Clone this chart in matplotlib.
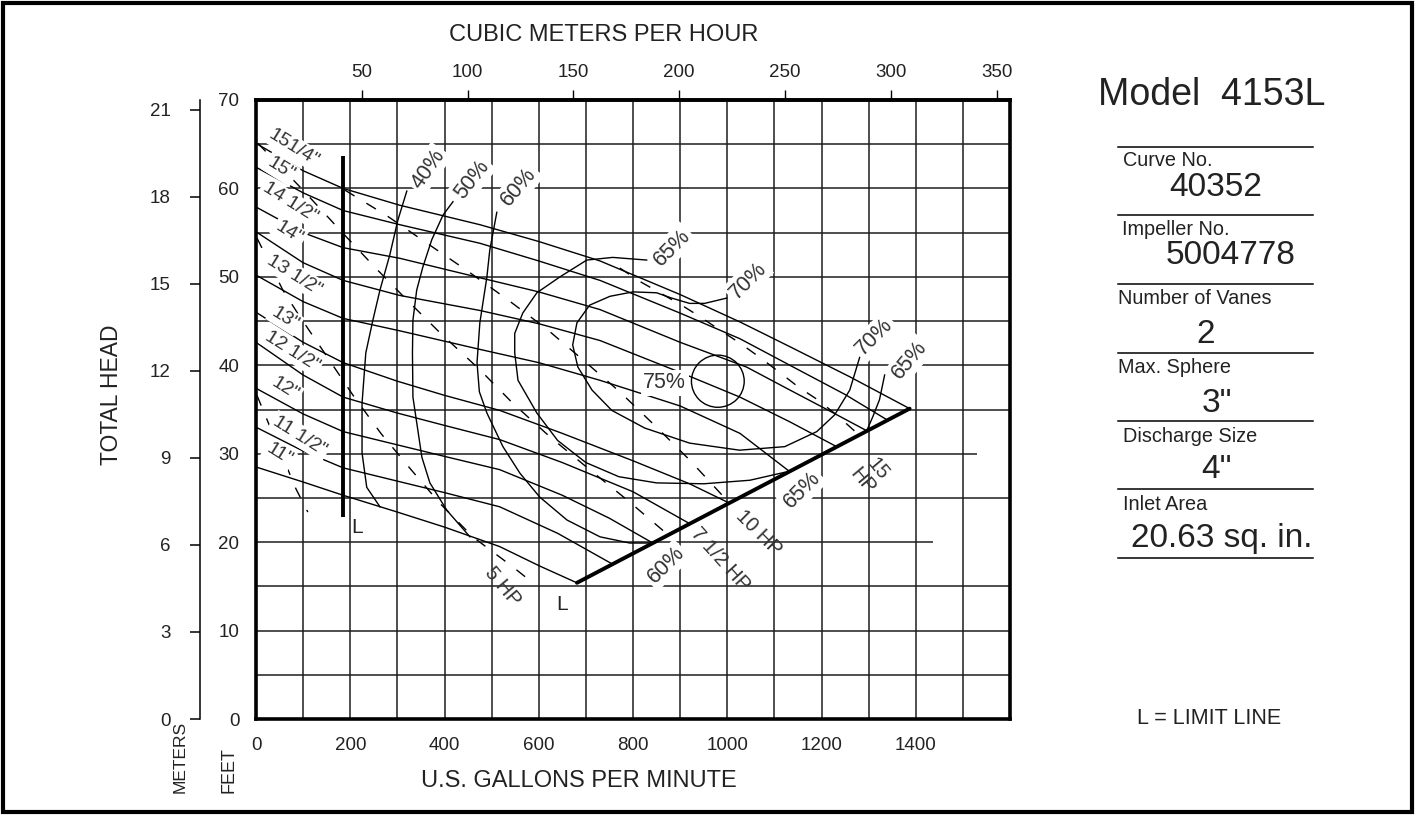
import matplotlib
matplotlib.use("Agg")
import matplotlib.pyplot as plt
from matplotlib.patches import Ellipse, Rectangle
from matplotlib.lines import Line2D

plt.rcParams['font.family'] = ['Liberation Sans', 'DejaVu Sans']
REG = ['Liberation Sans', 'DejaVu Sans']

# ------------------------------------------------------------------ data
gpm_ticks = [0, 200, 400, 600, 800, 1000, 1200, 1400]
feet_ticks = [0, 10, 20, 30, 40, 50, 60, 70]
m3h_ticks = [50, 100, 150, 200, 250, 300, 350]
meter_ticks = [0, 3, 6, 9, 12, 15, 18, 21]
GPM_PER_M3H = 4.49
FT_PER_M = 3.2808

impeller_names = ['151/4"', '15"', '14 1/2"', '14"', '13 1/2"', '13"',
                  '12 1/2"', '12"', '11 1/2"', '11"']
impeller_q = [
    [0, 100, 185, 305, 475, 600, 730, 900, 1027, 1133, 1260, 1387],
    [0, 100, 185, 305, 475, 600, 730, 900, 1027, 1133, 1250, 1340],
    [0, 100, 185, 305, 475, 600, 730, 900, 1041, 1133, 1215, 1296],
    [0, 100, 185, 305, 475, 600, 730, 900, 1027, 1133, 1232],
    [0, 100, 185, 305, 475, 600, 730, 900, 1027, 1132],
    [0, 100, 185, 300, 400, 517, 650, 800, 920, 1005],
    [0, 100, 185, 300, 400, 517, 650, 800, 920],
    [0, 100, 185, 300, 400, 517, 650, 750, 842],
    [0, 100, 185, 300, 400, 517, 640, 757],
    [0, 100, 185, 300, 400, 517, 602, 681],
]
impeller_h = [
    [65.1, 62.0, 60.0, 58.1, 55.9, 54.0, 51.8, 48.0, 44.9, 42.1, 38.7, 35.1],
    [62.4, 59.5, 57.5, 55.9, 53.8, 51.8, 49.6, 45.9, 43.0, 40.0, 36.7, 33.8],
    [57.9, 55.0, 53.3, 52.1, 49.9, 48.3, 46.3, 42.6, 39.8, 37.2, 34.9, 32.6],
    [55.1, 51.6, 49.6, 47.9, 46.2, 44.7, 42.8, 39.2, 36.4, 33.6, 30.8],
    [50.2, 47.2, 45.3, 43.9, 41.8, 40.3, 38.3, 35.4, 32.3, 28.0],
    [46.0, 42.6, 40.3, 38.2, 36.6, 34.9, 32.3, 29.2, 26.6, 24.4],
    [42.6, 38.9, 36.4, 34.6, 33.2, 31.6, 29.0, 25.7, 22.1],
    [37.4, 34.5, 32.5, 31.0, 29.7, 28.2, 25.3, 22.7, 19.9],
    [33.0, 30.3, 28.4, 26.9, 25.6, 24.0, 21.0, 17.5],
    [28.5, 26.8, 25.3, 23.4, 21.7, 19.5, 17.3, 15.4],
]

eff40_q = [320, 301, 284, 263, 248, 233, 225, 225, 235, 263]
eff40_h = [59.7, 56.4, 52.5, 48.5, 45.1, 41.4, 35.7, 30.1, 26.2, 24.0]
eff50_q = [418, 397, 373, 354, 341, 333, 332, 333, 352, 369, 405, 454]
eff50_h = [58.5, 57.0, 54.2, 51.1, 48.5, 45.1, 41.4, 36.4, 29.6, 26.7, 23.6, 20.6]
eff60_q = [511, 496, 490, 475, 469, 474, 490, 524, 560, 602, 660, 730, 793, 842]
eff60_h = [57.3, 53.0, 50.0, 44.8, 40.3, 37.0, 34.6, 30.8, 27.8, 25.1, 22.5, 20.6, 19.9, 19.9]
eff65_q = [829, 757, 702, 645, 596, 566, 549, 549, 556, 596, 640, 700, 770, 850, 950, 1048, 1122]
eff65_h = [51.9, 52.2, 51.9, 50.0, 48.2, 45.9, 43.6, 41.4, 38.3, 34.6, 31.5, 29.0, 27.4, 26.7, 26.6, 27.0, 27.9]
eff65r_q = [1334, 1323, 1309, 1296]
eff65r_h = [38.9, 36.1, 34.2, 32.6]
eff70_q = [999, 952, 920, 882, 850, 800, 751, 708, 681, 672, 683, 713, 755, 825,
           920, 1026, 1122, 1190, 1228, 1260, 1281]
eff70_h = [47.6, 47.0, 47.0, 47.6, 48.2, 48.3, 47.8, 46.8, 44.8, 42.3, 39.8, 37.2, 34.9, 32.9,
           31.2, 30.4, 30.8, 32.5, 34.4, 37.2, 40.9]
eff75_center = (980, 38.2)
eff75_size = (112, 5.9)

hp_small_q = [2, 30, 60, 85, 110]
hp_small_h = [36.6, 33.0, 29.2, 26.0, 23.4]
hp5_q = [2, 57, 93, 153, 206, 265, 329, 390, 460, 545, 592]
hp5_h = [54.4, 48.5, 45.5, 40.8, 36.6, 32.3, 28.2, 24.4, 20.6, 17.2, 15.2]
hp75_q = [4, 100, 178, 252, 320, 390, 475, 545, 624, 708, 787, 875]
hp75_h = [65.1, 59.8, 55.3, 51.1, 47.4, 43.7, 39.5, 35.7, 31.9, 28.2, 24.8, 20.8]
hp10_q = [189, 278, 363, 448, 532, 617, 694, 772, 850, 920, 1005]
hp10_h = [59.8, 56.9, 53.8, 50.7, 47.5, 44.1, 40.6, 37.0, 33.0, 29.3, 24.4]
hp15_q = [772, 814, 857, 906, 942, 984, 1027, 1069, 1111, 1152, 1192, 1234, 1280]
hp15_h = [51.0, 49.5, 48.2, 46.7, 45.5, 44.0, 42.5, 40.9, 39.2, 37.5, 36.1, 34.3, 32.1]

limit_left_q = [185, 185]
limit_left_h = [63.7, 22.8]
limit_right_q = [681, 1387]
limit_right_h = [15.4, 35.1]

info_labels = ['Curve No.', 'Impeller No.', 'Number of Vanes', 'Max. Sphere',
               'Discharge Size', 'Inlet Area']
info_values = ['40352', '5004778', '2', '3"', '4"', '20.63 sq. in.']

# ------------------------------------------------------------------ layout
W, H = 1415, 815
def fx(x): return x / W
def fy(y): return 1 - y / H

TXT = '#222222'
fig = plt.figure(figsize=(W / 100, H / 100), dpi=100)
fig.patch.set_facecolor('white')
ax = fig.add_axes([fx(256), fy(719), (1010 - 256) / W, (719 - 100) / H])
ax.set_xlim(0, 1600)
ax.set_ylim(0, 70)

GRID_C = '#1e1e1e'
for q in range(100, 1600, 100):
    ax.vlines(q, 0, 70, color=GRID_C, lw=1.1, zorder=1)
hgrid_end = {20: 1436, 30: 1531}
for h in range(5, 70, 5):
    ax.hlines(h, 0, hgrid_end.get(h, 1600), color=GRID_C, lw=1.1, zorder=1)

for s in ax.spines.values():
    s.set_linewidth(2.6)
    s.set_zorder(6)

LW = 1.0
for q, h in zip(impeller_q, impeller_h):
    ax.plot(q, h, color='black', lw=LW, zorder=3)

for q, h in [(eff40_q, eff40_h), (eff50_q, eff50_h), (eff60_q, eff60_h),
             (eff65_q, eff65_h), (eff65r_q, eff65r_h), (eff70_q, eff70_h)]:
    ax.plot(q, h, color='black', lw=LW, zorder=3)
ax.add_patch(Ellipse(eff75_center, eff75_size[0], eff75_size[1], fill=False,
                     ec='black', lw=LW, zorder=3))

DASH = (0, (8, 10))
for q, h in [(hp_small_q, hp_small_h), (hp5_q, hp5_h), (hp75_q, hp75_h),
             (hp10_q, hp10_h), (hp15_q, hp15_h)]:
    ax.plot(q, h, color='black', lw=LW, ls=DASH, zorder=3)

ax.plot(limit_left_q, limit_left_h, color='black', lw=2.8, solid_capstyle='butt', zorder=4)
ax.plot(limit_right_q, limit_right_h, color='black', lw=2.8, solid_capstyle='round', zorder=4)

# labels on the chart
box = dict(boxstyle='square,pad=0.12', fc='white', ec='none')
def lab(x, y, s, rot, size):
    ax.text(x, y, s, rotation=rot, rotation_mode='anchor', ha='center', va='center',
            fontsize=size, family=REG, color='#333333', bbox=box, zorder=5)

imp_label_pos = [(80.6, 64.6), (53.0, 62.2), (72.1, 58.4), (70.0, 55.0), (80.6, 50.2),
                 (61.5, 45.3), (76.4, 41.6), (61.5, 37.3), (93.3, 32.0), (48.8, 29.9)]
for name, (x, y) in zip(impeller_names, imp_label_pos):
    lab(x, y, name, -32, 14)

eff_label = [('40%', 364.8, 62.2, 55), ('50%', 458.1, 61.0, 52), ('60%', 557.8, 60.2, 50),
             ('65%', 882.3, 53.3, 45), ('70%', 1043.5, 49.6, 45), ('75%', 867.4, 38.0, 0),
             ('70%', 1312.8, 43.2, 45), ('65%', 1387.0, 40.6, 50), ('65%', 1158.0, 25.9, 45),
             ('60%', 869.6, 17.4, 45)]
for s, x, y, r in eff_label:
    lab(x, y, s, r, 15.5)

hp_label = [('5 HP', 523.9, 15.0, -50), ('7 1/2 HP', 984.1, 18.0, -48),
            ('10 HP', 1066.8, 21.1, -45), ('15\nHP', 1304.0, 27.6, -50)]
for s, x, y, r in hp_label:
    ax.text(x, y, s, rotation=r, rotation_mode='anchor', ha='center', va='center',
            fontsize=14.5, family=REG, color='#333333', zorder=5, linespacing=1.05)

ax.text(214, 21.6, 'L', fontsize=15, family=REG, ha='center', va='center', color=TXT)
ax.text(649, 12.9, 'L', fontsize=15, family=REG, ha='center', va='center', color=TXT)

# axes ticks
ax.set_xticks(gpm_ticks)
ax.set_yticks(feet_ticks)
ax.tick_params(axis='x', length=0, pad=13, labelsize=13.5, labelcolor=TXT)
ax.tick_params(axis='y', length=0, pad=12, labelsize=13.5, labelcolor=TXT)

sec = ax.secondary_xaxis('top', functions=(lambda q: q / GPM_PER_M3H,
                                           lambda m: m * GPM_PER_M3H))
sec.set_xticks(m3h_ticks)
sec.tick_params(direction='out', length=7, width=1.0, pad=7, labelsize=13.5,
                labelcolor=TXT)
sec.spines['top'].set_linewidth(2.6)

axm = fig.add_axes([fx(200), fy(719), 0.0001, (719 - 100) / H])
axm.set_ylim(0, 70 / FT_PER_M)
axm.set_yticks(meter_ticks)
axm.set_xticks([])
for s in ['top', 'right', 'bottom']:
    axm.spines[s].set_visible(False)
axm.spines['left'].set_linewidth(1.1)
axm.patch.set_visible(False)
axm.tick_params(axis='y', direction='out', length=7, width=1.1, pad=14, labelsize=13.5,
                labelcolor=TXT)

# axis titles
fig.text(fx(604), fy(35), 'CUBIC METERS PER HOUR', ha='center', va='center',
         fontsize=17, family=REG, color=TXT)
fig.text(fx(579), fy(781), 'U.S. GALLONS PER MINUTE', ha='center', va='center',
         fontsize=17, family=REG, color=TXT)
fig.text(fx(112), fy(395), 'TOTAL HEAD', rotation=90, ha='center', va='center',
         fontsize=16.5, family=REG, color=TXT)
fig.text(fx(180), fy(793), 'METERS', rotation=90, ha='center', va='bottom',
         fontsize=12.5, family=REG, color=TXT)
fig.text(fx(229), fy(793), 'FEET', rotation=90, ha='center', va='bottom',
         fontsize=13, family=REG, color=TXT)

# right panel
fig.text(fx(1098), fy(95), 'Model  4153L', ha='left', va='center', fontsize=27,
         family=REG, color=TXT)
rule_y = [147, 215, 284, 353, 421, 489, 558]
for y in rule_y:
    fig.add_artist(Line2D([fx(1118), fx(1313)], [fy(y), fy(y)], color='black', lw=1.1))
label_y = [161, 230, 298, 367, 436, 505]
label_x = [1123, 1122, 1118, 1118, 1123, 1123]
value_y = [187, 256, 334, 403, 470, 538]
value_x = [1216, 1231, 1206, 1217, 1216, 1222]
for s, x, y in zip(info_labels, label_x, label_y):
    fig.text(fx(x), fy(y), s, ha='left', va='center', fontsize=14.3, family=REG, color=TXT)
for s, x, y in zip(info_values, value_x, value_y):
    fig.text(fx(x), fy(y), s, ha='center', va='center', fontsize=24, family=REG,
             color=TXT)
fig.text(fx(1209), fy(718), 'L = LIMIT LINE', ha='center', va='center', fontsize=15.5,
         family=REG, color=TXT)

# outer frame
fig.add_artist(Rectangle((fx(3), fy(812)), (1412 - 3) / W, (812 - 3) / H,
                         transform=fig.transFigure, fill=False, ec='black', lw=3))

fig.savefig('out.png', dpi=100, facecolor='white')
